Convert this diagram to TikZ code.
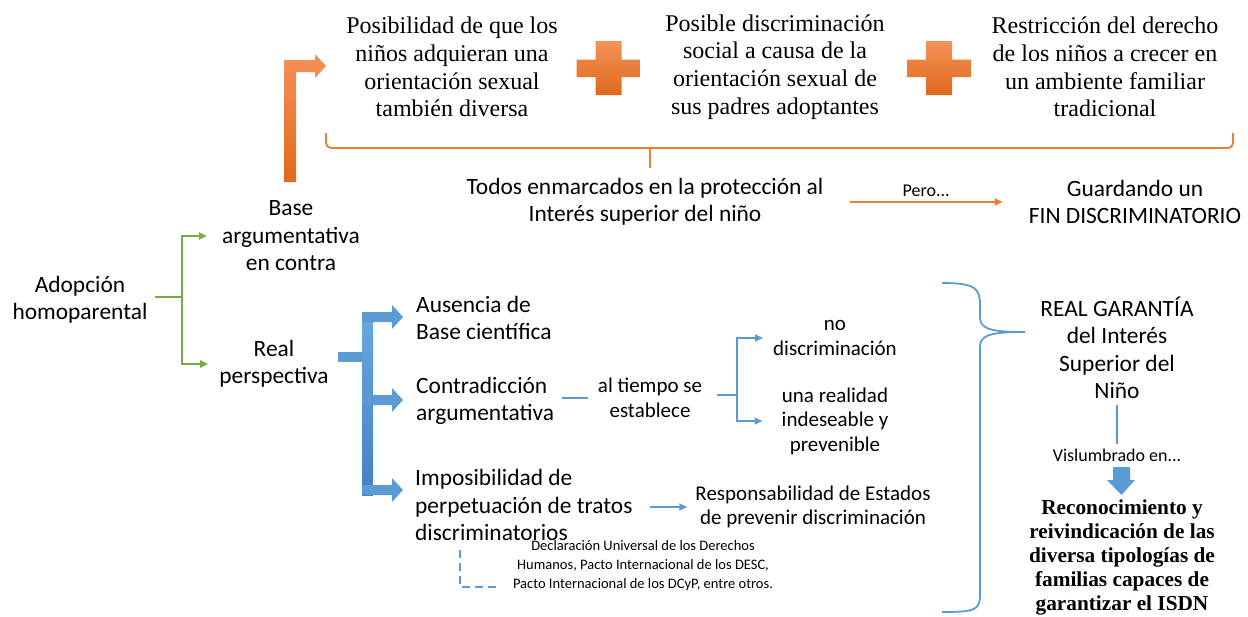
\documentclass[tikz,border=0pt]{standalone}
\usepackage{fontspec}
\setmainfont{Liberation Serif}
\setsansfont{Carlito}
\usetikzlibrary{arrows.meta}
\definecolor{lineorange}{HTML}{ED7D31}
\definecolor{orangetop}{HTML}{F39257}
\definecolor{orangebot}{HTML}{E0691C}
\definecolor{linegreen}{HTML}{70AD47}
\definecolor{lineblue}{HTML}{5B9BD5}
\definecolor{bluetop}{HTML}{6AA8DF}
\definecolor{bluebot}{HTML}{4281C4}
\tikzset{
  txt/.style={font=\sffamily\fontsize{23.4}{27.5}\selectfont, align=center, inner sep=0pt},
  midtxt/.style={font=\sffamily\fontsize{21}{24.5}\selectfont, align=center, inner sep=0pt},
  smalltxt/.style={font=\sffamily\fontsize{18}{22}\selectfont, inner sep=0pt},
  tinytxt/.style={font=\sffamily\fontsize{14.5}{19}\selectfont, align=center, inner sep=0pt},
  rmtxt/.style={font=\rmfamily\fontsize{24}{27.7}\selectfont, align=center, inner sep=0pt},
  bftxt/.style={font=\rmfamily\bfseries\fontsize{21.3}{24}\selectfont, align=center, inner sep=0pt},
  greenln/.style={draw=linegreen, line width=2pt},
  blueln/.style={draw=lineblue, line width=1.8pt},
  orangeln/.style={draw=lineorange, line width=1.8pt},
  tip/.style={-{Triangle[length=8pt,width=7pt]}}
}
\begin{document}
\begin{tikzpicture}[x=1pt, y=-1pt]
\useasboundingbox (0,0) rectangle (1248,616);
\node[txt] (adop) at (80,300) {Adopción\\homoparental};
\node[txt] (base) at (291,236) {Base\\argumentativa\\en contra};
\node[txt] (real) at (274,364) {Real\\perspectiva};
\node[rmtxt] (posib) at (452,67) {Posibilidad de que los\\niños adquieran una\\orientación sexual\\también diversa};
\node[rmtxt] (posdisc) at (775,67) {Posible discriminación\\social a causa de la\\orientación sexual de\\sus padres adoptantes};
\node[rmtxt] (restr) at (1105,67) {Restricción del derecho\\de los niños a crecer en\\un ambiente familiar\\tradicional};
\node[txt] (todos) at (645,202) {Todos enmarcados en la protección al\\Interés superior del niño};
\node[txt] (guard) at (1135,202) {Guardando un\\FIN DISCRIMINATORIO};
\node[txt, align=left, anchor=west] (ausencia) at (416,318) {Ausencia de\\Base científica};
\node[txt, align=left, anchor=west] (contra) at (416,401) {Contradicción\\argumentativa};
\node[txt, align=left, anchor=west] (imposib) at (415,505) {Imposibilidad de\\perpetuación de tratos\\discriminatorios};
\node[midtxt] (tiempo) at (650,398) {al tiempo se\\establece};
\node[midtxt] (nodisc) at (835,338) {no\\discriminación};
\node[midtxt] (realidad) at (835,421) {una realidad\\indeseable y\\prevenible};
\node[midtxt] (respons) at (813,507) {Responsabilidad de Estados\\de prevenir discriminación};
\node[tinytxt] (declar) at (643,566) {Declaración Universal de los Derechos\\Humanos, Pacto Internacional de los DESC,\\Pacto Internacional de los DCyP, entre otros.};
\node[txt] (garantia) at (1117,348) {REAL GARANTÍA\\del Interés\\Superior del\\Niño};
\node[smalltxt] (vislum) at (1117,455) {Vislumbrado en...};
\node[bftxt] (reconoc) at (1122,557) {Reconocimiento y\\reivindicación de las\\diversa tipologías de\\familias capaces de\\garantizar el ISDN};
\coordinate (gfork) at (182,297);
\draw[greenln, shorten <=7pt] (adop.east |- gfork) -- (gfork);
\draw[greenln, tip, shorten >=15pt] (gfork) |- (base);
\draw[greenln, tip, shorten >=11pt] (gfork) |- (real);
\shade[top color=orangetop, bottom color=orangebot] (284,182) -- (284,60) -- (315,60) -- (315,54) -- (326,66) -- (315,78) -- (315,72) -- (296,72) -- (296,182) -- cycle;
\foreach \x in {608.5,939} \shade[top color=orangetop, bottom color=orangebot] (\x-13,41) -- (\x+13,41) -- (\x+13,59.5) -- (\x+32,59.5) -- (\x+32,77) -- (\x+13,77) -- (\x+13,95) -- (\x-13,95) -- (\x-13,77) -- (\x-32,77) -- (\x-32,59.5) -- (\x-13,59.5) -- cycle;
\draw[orangeln, rounded corners=5pt] (326,133) -- (326,148) -- (1233,148) -- (1233,133);
\draw[orangeln] (650,148) -- (650,168);
\draw[orangeln, tip, shorten <=26pt, shorten >=26pt] (todos) -- (guard) node[midway, above=4pt, smalltxt] (pero) {Pero...};
\shade[top color=bluetop, bottom color=bluebot] (362,312) rectangle (373,495);
\fill[lineblue] (338,352) rectangle (362,362);
\foreach \y in {317,400,490} \fill[lineblue] (362,\y-5) -- (392,\y-5) -- (392,\y-12) -- (403,\y) -- (392,\y+12) -- (392,\y+5) -- (362,\y+5) -- cycle;
\draw[blueln, shorten <=8pt, shorten >=10pt] (contra.east |- tiempo) -- (tiempo);
\coordinate (tfork) at (737,395);
\draw[blueln, shorten <=15pt] (tiempo.east |- tfork) -- (tfork);
\draw[blueln, tip, shorten >=10pt] (tfork) |- (nodisc);
\draw[blueln, tip, shorten >=19pt] (tfork) |- (realidad);
\draw[blueln, tip, shorten <=17pt, shorten >=8pt] (imposib.east |- respons) -- (respons);
\coordinate (dstart) at (460,550);
\draw[blueln, dash pattern=on 8pt off 5pt] (dstart) |- ([xshift=-17pt, yshift=-21pt]declar.west);
\draw[blueln] (942,283) .. controls (975,283) and (980,288) .. (980,305) -- (980,318) .. controls (980,330) and (995,332) .. (1025,332);
\draw[blueln] (1025,332) .. controls (995,332) and (980,334) .. (980,346) -- (980,595) .. controls (980,610) and (975,612) .. (942,612);
\draw[blueln, shorten <=6pt, shorten >=4pt] (garantia) -- (vislum);
\fill[lineblue] (1113,467) -- (1130,467) -- (1130,480) -- (1135,480) -- (1121.5,495) -- (1107,480) -- (1113,480) -- cycle;
\end{tikzpicture}
\end{document}
